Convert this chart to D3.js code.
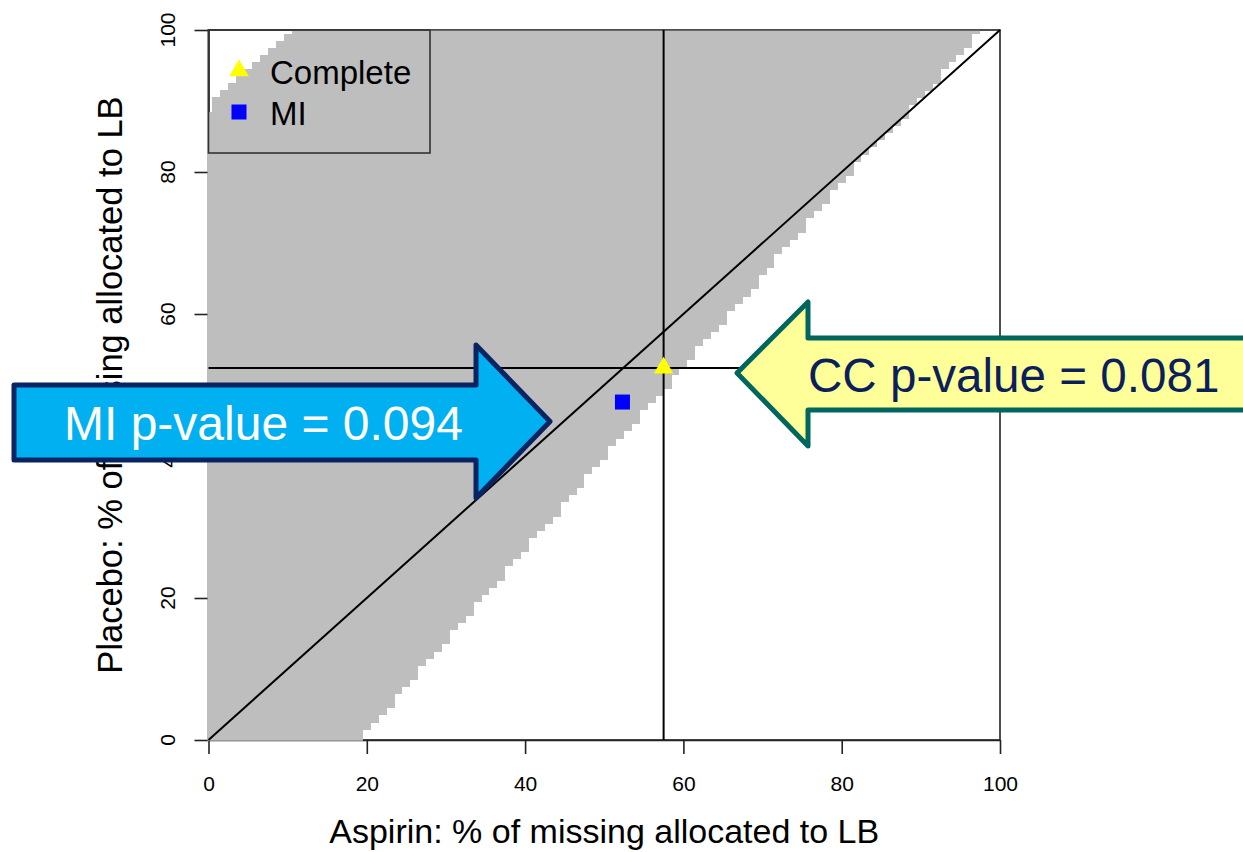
<!DOCTYPE html>
<html>
<head>
<meta charset="utf-8">
<script src="https://cdn.jsdelivr.net/npm/d3@7"></script>
<style>
  body { margin: 0; background: #fff; }
  svg { display: block; }
  text { font-family: "Liberation Sans", Arial, Helvetica, sans-serif; }
</style>
</head>
<body>
<svg id="chart" width="1243" height="852"></svg>
<script>
// ---- data ---------------------------------------------------------------
// axis ticks (percent of missing allocated to LB)
const xTicks = [0, 20, 40, 60, 80, 100];
const yTicks = [0, 20, 40, 60, 80, 100];

// one row per placebo percentage (0..100)
const placeboPct = d3.range(0, 101);

// first aspirin percentage of the shaded (non-significant) region in each row
const shadeStart = [
  0,0,0,0,0,0,0,0,0,0, 0,0,0,0,0,0,0,0,0,0,
  0,0,0,0,0,0,0,0,0,0, 0,0,0,0,0,0,0,0,0,0,
  0,0,0,0,0,0,0,0,0,0, 0,0,0,0,0,0,0,0,0,0,
  0,0,0,0,0,0,0,0,0,0, 0,0,0,0,0,0,0,0,0,0,
  0,0,0,0,0,0,0,0,0,1, 1,2,3,4,5,6,7,8,9,10,
  11
];
// last aspirin percentage of the shaded region in each row
const shadeEnd = [
  19,19,20,21,22,23,23,24,25,26, 26,27,28,29,30,30,31,32,33,33,
  34,35,36,37,37,38,39,40,40,41, 42,43,44,44,45,46,47,47,48,49,
  50,50,51,52,53,54,54,55,56,57, 58,58,59,60,61,61,62,63,64,65,
  65,66,67,68,69,69,70,71,71,72, 73,74,75,75,76,77,78,78,79,80,
  81,81,82,83,84,85,86,87,88,88, 89,90,91,92,92,93,94,95,96,96,
  97
];

// analysed results
const pointNames = ["Complete", "MI"];
const pointAspirin = [57.5, 52.3];
const pointPlacebo = [52.4, 47.6];
const pointColors = ["#FFFF00", "#0000FF"];

// call-out texts
const calloutText = ["MI p-value = 0.094", "CC p-value = 0.081"];

// ---- layout -------------------------------------------------------------
const svg = d3.select("#chart");
const x = d3.scaleLinear().domain([0, 100]).range([208.5, 1000]);
const y = d3.scaleLinear().domain([0, 100]).range([740, 30]);

// plot frame
svg.append("rect")
  .attr("x", x(0)).attr("y", y(100))
  .attr("width", x(100) - x(0)).attr("height", y(0) - y(100))
  .attr("fill", "none").attr("stroke", "#222").attr("stroke-width", 1.6);

// x axis
const xAxis = svg.append("g")
  .attr("transform", `translate(0,${y(0)})`)
  .call(d3.axisBottom(x).tickValues(xTicks).tickSize(14).tickSizeOuter(0).tickPadding(22));
xAxis.select(".domain").attr("stroke", "#222").attr("stroke-width", 1.6);
xAxis.selectAll(".tick line").attr("stroke", "#222").attr("stroke-width", 1.6);
xAxis.selectAll(".tick text")
  .attr("font-size", 21).attr("fill", "#000")
  .style("font-family", '"Liberation Sans", Arial, sans-serif');

// y axis (ticks only, labels rotated like base graphics)
const yAxis = svg.append("g")
  .attr("transform", `translate(${x(0)},0)`)
  .call(d3.axisLeft(y).tickValues(yTicks).tickSize(14).tickSizeOuter(0).tickFormat(""));
yAxis.select(".domain").attr("stroke", "#222").attr("stroke-width", 1.6);
yAxis.selectAll(".tick line").attr("stroke", "#222").attr("stroke-width", 1.6);

svg.append("g").selectAll("text")
  .data(yTicks)
  .join("text")
  .attr("transform", d => `translate(175,${y(d)}) rotate(-90)`)
  .attr("text-anchor", "middle")
  .attr("font-size", 21)
  .text(d => d);

// axis titles
svg.append("text")
  .attr("x", (x(0) + x(100)) / 2).attr("y", 843)
  .attr("text-anchor", "middle").attr("font-size", 34)
  .text("Aspirin: % of missing allocated to LB");

svg.append("text")
  .attr("transform", `translate(122,${(y(0) + y(100)) / 2}) rotate(-90)`)
  .attr("text-anchor", "middle").attr("font-size", 34.5)
  .text("Placebo: % of missing allocated to LB");

// shaded region, one strip of cells per placebo row
svg.append("clipPath").attr("id", "plotClip")
  .append("rect")
  .attr("x", x(0) - 1).attr("y", y(100) + 0.8)
  .attr("width", x(100) - x(0) + 1).attr("height", y(0) - y(100));

svg.append("g").attr("clip-path", "url(#plotClip)")
  .selectAll("rect")
  .data(placeboPct)
  .join("rect")
  .attr("x", (d, i) => x(shadeStart[i] - 0.5))
  .attr("width", (d, i) => x(shadeEnd[i] + 0.5) - x(shadeStart[i] - 0.5))
  .attr("y", d => y(d + 0.5))
  .attr("height", d => y(d - 0.5) - y(d + 0.5) + 0.3)
  .attr("fill", "#BEBEBE")
  .attr("shape-rendering", "crispEdges");

// reference lines: identity and the complete-case cross-hair
const lines = svg.append("g").attr("stroke", "#000").attr("stroke-width", 2).attr("fill", "none");
lines.append("line")
  .attr("x1", x(0)).attr("y1", y(0)).attr("x2", x(100)).attr("y2", y(100));
lines.append("line")
  .attr("x1", x(pointAspirin[0])).attr("x2", x(pointAspirin[0]))
  .attr("y1", y(0)).attr("y2", y(100));
lines.append("line")
  .attr("x1", x(0)).attr("x2", x(100))
  .attr("y1", y(pointPlacebo[0])).attr("y2", y(pointPlacebo[0]));

// result points
const symbols = [d3.symbolTriangle, d3.symbolSquare];
const sizes = [165, 225];
svg.append("g").selectAll("path")
  .data(pointNames)
  .join("path")
  .attr("transform", (d, i) => `translate(${x(pointAspirin[i])},${y(pointPlacebo[i])})`)
  .attr("d", (d, i) => d3.symbol(symbols[i], sizes[i])())
  .attr("fill", (d, i) => pointColors[i]);

// legend
const legend = svg.append("g");
legend.append("rect")
  .attr("x", x(0)).attr("y", y(100))
  .attr("width", 430 - x(0)).attr("height", 153 - y(100))
  .attr("fill", "none").attr("stroke", "#333").attr("stroke-width", 1.6);
const legendRowY = [70.5, 112];
const legendTextY = [84, 125];
legend.selectAll("path")
  .data(pointNames)
  .join("path")
  .attr("transform", (d, i) => `translate(239,${legendRowY[i]})`)
  .attr("d", (d, i) => d3.symbol(symbols[i], sizes[i])())
  .attr("fill", (d, i) => pointColors[i]);
legend.selectAll("text")
  .data(pointNames)
  .join("text")
  .attr("x", 270).attr("y", (d, i) => legendTextY[i])
  .attr("font-size", 33)
  .text(d => d);

// call-out arrows
const arrowLine = d3.line();
const miArrow = [[14,385],[476,385],[476,345],[550,421.5],[476,498],[476,460],[14,460]];
const ccArrow = [[737,373],[808,302],[808,338],[1262,338],[1262,410],[808,410],[808,446]];

svg.append("path")
  .attr("d", arrowLine(miArrow) + "Z")
  .attr("fill", "#00B0F0").attr("stroke", "#0A2363")
  .attr("stroke-width", 5).attr("stroke-linejoin", "round");
svg.append("text")
  .attr("x", 64).attr("y", 440)
  .attr("font-size", 48).attr("fill", "#fff")
  .text(calloutText[0]);

svg.append("path")
  .attr("d", arrowLine(ccArrow) + "Z")
  .attr("fill", "#FFFF99").attr("stroke", "#00665E")
  .attr("stroke-width", 5).attr("stroke-linejoin", "round");
svg.append("text")
  .attr("x", 808).attr("y", 392)
  .attr("font-size", 47.6).attr("fill", "#0B1F5C")
  .text(calloutText[1]);
</script>
</body>
</html>
